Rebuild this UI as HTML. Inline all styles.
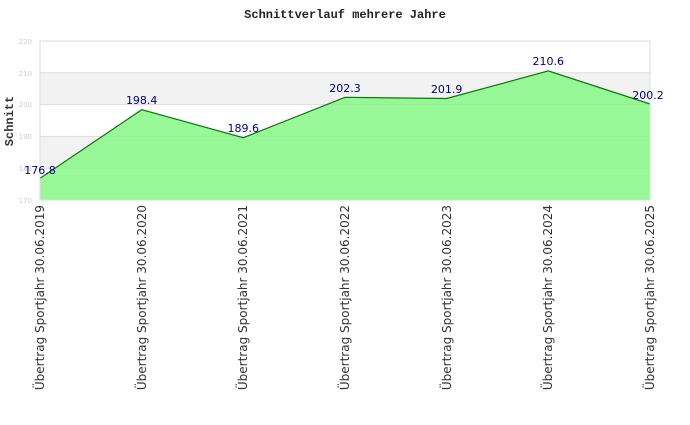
<!DOCTYPE html>
<html><head><meta charset="utf-8"><style>
html,body{margin:0;padding:0;background:#fff;}
svg text{font-family:"DejaVu Sans","Liberation Sans",sans-serif;}
</style></head><body>
<svg width="690" height="420" xmlns="http://www.w3.org/2000/svg">
<text x="345" y="18" text-anchor="middle" font-size="12" font-weight="bold" fill="#222" style="font-family:'Liberation Mono',monospace">Schnittverlauf mehrere Jahre</text>
<rect x="40" y="41" width="610" height="159" fill="#fff"/>
<rect x="40" y="72.8" width="610" height="31.8" fill="#f2f2f2"/>
<rect x="40" y="136.4" width="610" height="31.8" fill="#f2f2f2"/>
<g stroke="#ddd" stroke-width="1">
<line x1="40" y1="72.8" x2="650" y2="72.8"/><line x1="40" y1="104.6" x2="650" y2="104.6"/>
<line x1="40" y1="136.4" x2="650" y2="136.4"/><line x1="40" y1="168.2" x2="650" y2="168.2"/>
</g>
<polygon points="40,200 40,178.4 141.7,109.7 243.3,137.7 345,97.3 446.7,98.5 548.3,70.9 650,104 650,200" fill="rgb(128,248,128)" fill-opacity="0.8"/>
<polyline points="40,178.4 141.7,109.7 243.3,137.7 345,97.3 446.7,98.5 548.3,70.9 650,104" fill="none" stroke="#008000" stroke-width="1.2"/>
<rect x="40" y="41" width="610" height="159" fill="none" stroke="#ddd"/>
<g font-size="7" fill="#ccc" text-anchor="end">
<text x="32" y="44">220</text><text x="32" y="76">210</text><text x="32" y="107">200</text>
<text x="32" y="139">190</text><text x="32" y="171">180</text><text x="32" y="203">170</text>
</g>
<text transform="translate(13,121) rotate(-90)" text-anchor="middle" font-size="12" font-weight="bold" fill="#333" style="font-family:'Liberation Mono',monospace">Schnitt</text>
<g font-size="11" fill="#000080" text-anchor="middle">
<text x="40" y="174">176.8</text><text x="141.7" y="104">198.4</text><text x="243.3" y="132">189.6</text>
<text x="345" y="92">202.3</text><text x="446.7" y="93">201.9</text><text x="548.3" y="65">210.6</text><text x="648" y="99">200.2</text>
</g>
<g font-size="12" fill="#333" text-anchor="end">
<text transform="translate(44,205) rotate(-90)">Übertrag Sportjahr 30.06.2019</text>
<text transform="translate(146,205) rotate(-90)">Übertrag Sportjahr 30.06.2020</text>
<text transform="translate(247,205) rotate(-90)">Übertrag Sportjahr 30.06.2021</text>
<text transform="translate(349,205) rotate(-90)">Übertrag Sportjahr 30.06.2022</text>
<text transform="translate(451,205) rotate(-90)">Übertrag Sportjahr 30.06.2023</text>
<text transform="translate(552,205) rotate(-90)">Übertrag Sportjahr 30.06.2024</text>
<text transform="translate(654,205) rotate(-90)">Übertrag Sportjahr 30.06.2025</text>
</g>
</svg>
</body></html>
